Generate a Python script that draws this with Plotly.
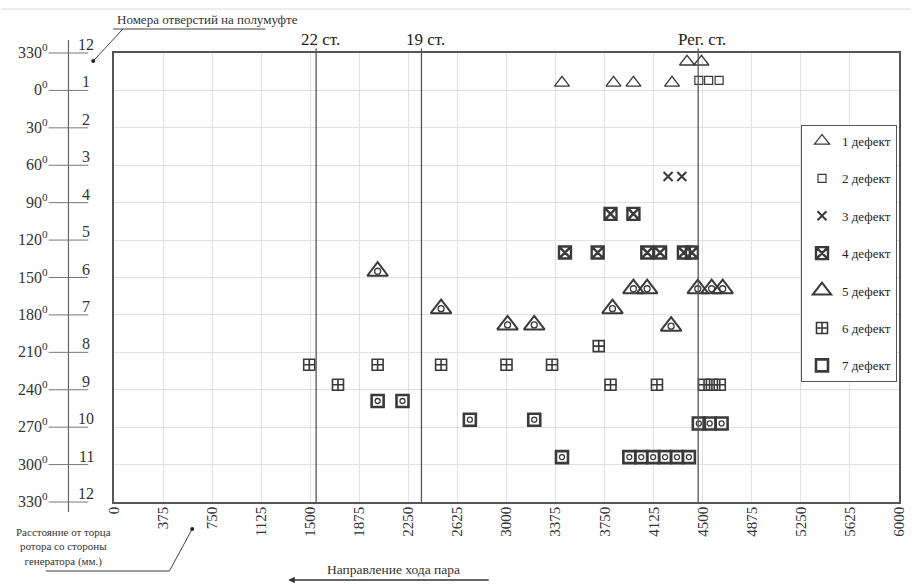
import plotly.graph_objects as go

# ---------------- data ----------------
x_tick_vals = [0, 375, 750, 1125, 1500, 1875, 2250, 2625, 3000, 3375, 3750,
               4125, 4500, 4875, 5250, 5625, 6000]
angle_vals = [-30, 0, 30, 60, 90, 120, 150, 180, 210, 240, 270, 300, 330]
angle_labels = ["330", "0", "30", "60", "90", "120", "150", "180", "210",
                "240", "270", "300", "330"]
hole_numbers = ["12", "1", "2", "3", "4", "5", "6", "7", "8", "9", "10", "11", "12"]

station_x = [1545, 2350, 4465]
station_names = ["22 ст.", "19 ст.", "Рег. ст."]

d1_x = [4380, 4490, 3424, 3818, 3970, 4265]
d1_y = [-23, -23, -6, -6, -6, -6]
d2_x = [4470, 4545, 4625]
d2_y = [-8, -8, -8]
d3_x = [4235, 4340]
d3_y = [69, 69]
d4_x = [3795, 3970, 3447, 3697, 4076, 4174, 4356, 4417]
d4_y = [99, 99, 130, 130, 130, 130, 130, 130]
d5_x = [2015, 2500, 3008, 3212, 3810, 3970, 4075, 4258, 4462, 4568, 4652]
d5_y = [145, 175, 188, 188, 175, 159, 159, 189, 159, 159, 159]
d6_x = [1492, 1712, 2015, 2500, 3000, 3348, 3705, 3795, 4150, 4510, 4570, 4630]
d6_y = [220, 236, 220, 220, 220, 220, 205, 236, 236, 236, 236, 236]
d7_x = [2015, 2205, 2720, 3212, 3424, 3939, 4030, 4121, 4212, 4303, 4394,
        4470, 4553, 4644]
d7_y = [249, 249, 264, 264, 294, 294, 294, 294, 294, 294, 294, 267, 267, 267]

legend_names = ["1 дефект", "2 дефект", "3 дефект", "4 дефект",
                "5 дефект", "6 дефект", "7 дефект"]

# ---------------- layout helpers ----------------
W, H = 919, 584
L, R, T, B = 114, 12, 53, 82
PW, PH = W - L - R, H - T - B


def fx(px):
    return (px - L) / PW


def fy(py):
    return (T + PH - py) / PH


FONT = "Liberation Serif, Times New Roman, serif"
MC = "#3a3a3a"

fig = go.Figure()


def add(xs, ys, name, symbol, size, lw, group, show=True):
    fig.add_trace(go.Scatter(
        x=xs, y=ys, mode="markers", name=name, legendgroup=group,
        showlegend=show,
        marker=dict(symbol=symbol, size=size, color=MC,
                    line=dict(width=lw, color=MC)),
        hoverinfo="skip"))


add(d1_x, d1_y, legend_names[0], "triangle-up-open", 13, 1.3, "g1")
add(d2_x, d2_y, legend_names[1], "square-open", 8, 1.2, "g2")
add(d3_x, d3_y, legend_names[2], "x-thin-open", 9, 2, "g3")
add(d4_x, d4_y, legend_names[3], "square-x-open", 12, 2.4, "g4")
add(d5_x, d5_y, legend_names[4], "triangle-up-open", 18, 2, "g5")
add(d5_x, d5_y, legend_names[4], "circle-open", 6, 1.3, "g5", show=False)
add(d6_x, d6_y, legend_names[5], "square-cross-open", 11, 1.6, "g6")
add(d7_x, d7_y, legend_names[6], "square-open", 12, 2.6, "g7")
add(d7_x, d7_y, legend_names[6], "circle-open", 5, 1.3, "g7", show=False)

shapes = []
annotations = []

# station vertical lines and labels
for sx, sn in zip(station_x, station_names):
    shapes.append(dict(type="line", xref="x", yref="paper", x0=sx, x1=sx,
                       y0=0, y1=1.01, line=dict(color="#555", width=1.3)))
    annotations.append(dict(x=sx, y=1.0, xref="x", yref="paper", text=sn,
                            showarrow=False, yanchor="bottom", yshift=2,
                            xshift=4, font=dict(family=FONT, size=17, color="#222")))

# left angle scale
shapes.append(dict(type="line", xref="paper", yref="paper",
                   x0=fx(68), x1=fx(68), y0=fy(512), y1=fy(40),
                   line=dict(color="#666", width=1.2)))
for a, lab, num in zip(angle_vals, angle_labels, hole_numbers):
    yp = (330 - a) / 360.0
    shapes.append(dict(type="line", xref="paper", yref="paper",
                       x0=fx(48), x1=fx(88), y0=yp, y1=yp,
                       line=dict(color="#777", width=1)))
    annotations.append(dict(x=fx(49), y=a, xref="paper", yref="y",
                            text=lab + "<sup>0</sup>", showarrow=False,
                            xanchor="right", yanchor="middle", yshift=2,
                            font=dict(family=FONT, size=16, color="#333")))
    annotations.append(dict(x=fx(86), y=a, xref="paper", yref="y",
                            text=num, showarrow=False,
                            xanchor="center", yanchor="bottom", yshift=-2,
                            font=dict(family=FONT, size=16, color="#333")))

# top-left caption with leader
annotations.append(dict(x=fx(208), y=fy(19), xref="paper", yref="paper",
                        text="Номера отверстий на полумуфте", showarrow=False,
                        xanchor="center", yanchor="middle",
                        font=dict(family=FONT, size=13, color="#333")))
shapes.append(dict(type="line", xref="paper", yref="paper",
                   x0=fx(113), x1=fx(267), y0=fy(29), y1=fy(29),
                   line=dict(color="#444", width=1)))
shapes.append(dict(type="line", xref="paper", yref="paper",
                   x0=fx(123), x1=fx(93), y0=fy(29), y1=fy(61),
                   line=dict(color="#444", width=1)))
shapes.append(dict(type="circle", xref="paper", yref="paper",
                   x0=fx(91), x1=fx(95), y0=fy(63), y1=fy(59),
                   fillcolor="#222", line=dict(color="#222", width=0)))

# bottom-left caption with leader
annotations.append(dict(x=fx(63), y=fy(547), xref="paper", yref="paper",
                        text="Расстояние от торца<br>ротора со стороны<br>генератора (мм.)",
                        showarrow=False, xanchor="center", yanchor="middle",
                        align="center",
                        font=dict(family=FONT, size=11, color="#333")))
shapes.append(dict(type="line", xref="paper", yref="paper",
                   x0=fx(45), x1=fx(170), y0=fy(571), y1=fy(571),
                   line=dict(color="#444", width=1)))
shapes.append(dict(type="line", xref="paper", yref="paper",
                   x0=fx(170), x1=fx(193), y0=fy(571), y1=fy(529),
                   line=dict(color="#444", width=1)))
shapes.append(dict(type="circle", xref="paper", yref="paper",
                   x0=fx(191), x1=fx(195), y0=fy(531), y1=fy(527),
                   fillcolor="#222", line=dict(color="#222", width=0)))

# steam direction
annotations.append(dict(x=fx(396), y=fy(569), xref="paper", yref="paper",
                        text="Направление хода пара", showarrow=False,
                        xanchor="center", yanchor="middle",
                        font=dict(family=FONT, size=13.5, color="#333")))
annotations.append(dict(x=fx(290), y=fy(580), xref="paper", yref="paper",
                        ax=202, ay=0, text="", showarrow=True, arrowhead=2,
                        arrowsize=1, arrowwidth=1.3, arrowcolor="#333"))

# faint scan line at top
shapes.append(dict(type="line", xref="paper", yref="paper",
                   x0=fx(0), x1=fx(919), y0=fy(9), y1=fy(9),
                   line=dict(color="#ececec", width=2)))

fig.update_layout(
    width=W, height=H,
    margin=dict(l=L, r=R, t=T, b=B),
    paper_bgcolor="white", plot_bgcolor="white",
    font=dict(family=FONT, color="#333"),
    shapes=shapes, annotations=annotations,
    showlegend=True,
    legend=dict(x=fx(808), y=fy(125), xanchor="left", yanchor="top",
                bgcolor="white", bordercolor="#555", borderwidth=1,
                font=dict(family=FONT, size=13, color="#222"),
                traceorder="grouped", tracegroupgap=17.5,
                itemsizing="trace", itemwidth=30),
    xaxis=dict(range=[0, 6000], tickvals=x_tick_vals,
               ticktext=[str(v) for v in x_tick_vals], tickangle=-90,
               showgrid=True, gridcolor="#e2e2e2", gridwidth=1,
               zeroline=False, showline=True, linecolor="#555", linewidth=1.5,
               mirror=True, ticks="", ticklabelstandoff=-3,
               tickfont=dict(family=FONT, size=15, color="#333")),
    yaxis=dict(range=[330, -30], tickvals=angle_vals, showticklabels=False,
               showgrid=True, gridcolor="#e2e2e2", gridwidth=1,
               zeroline=False, showline=True, linecolor="#555", linewidth=1.5,
               mirror=True, ticks=""),
)

fig.write_html("out.html", config={"displayModeBar": False},
               post_script="document.body.style.margin='0';document.body.style.padding='0';")
